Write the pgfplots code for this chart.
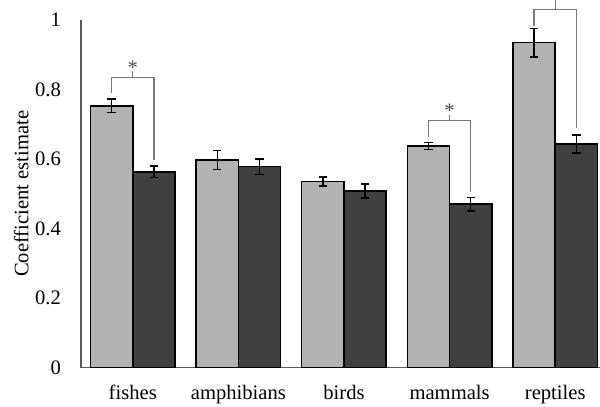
\documentclass[border=0pt]{standalone}
\usepackage{fontspec}
\setmainfont{Liberation Serif}
\usepackage{pgfplots}
\pgfplotsset{compat=1.18}
\definecolor{lightbar}{RGB}{178,178,178}
\definecolor{darkbar}{RGB}{64,64,64}
\definecolor{brk}{RGB}{120,120,120}
\begin{document}
\fontsize{10.3}{12}\selectfont
\begin{tikzpicture}
\begin{axis}[
  scale only axis, width=263pt, height=173.75pt,
  xmin=-0.49, xmax=4.49, ymin=0, ymax=1,
  clip=false,
  axis x line*=bottom, axis y line*=left,
  axis line style={draw=black!65, line width=0.75pt},
  xtick={0,1,2,3,4}, xticklabels={fishes,amphibians,birds,mammals,reptiles},
  ytick={0,0.2,0.4,0.6,0.8,1}, yticklabels={0,0.2,0.4,0.6,0.8,1},
  major tick length=0pt, tick style={draw=none},
  yticklabel style={anchor=east, xshift=-6.4pt},
  xticklabel style={anchor=base, yshift=-16.25pt},
  ylabel={Coefficient estimate},
  ylabel style={at={(axis description cs:-0.1002,0.5)}, anchor=base, rotate=0},
]
\addplot[ybar, bar width=0.4, bar shift=0pt, fill=lightbar, draw=black, line width=0.75pt,
  error bars/.cd, y dir=both, y explicit,
  error bar style={black, line width=0.7pt},
  error mark options={rotate=90, mark size=2.1pt, black, line width=0.7pt}]
  table[x=x, y=y, y error=e] {
x y e
-0.2 0.753 0.020
0.8 0.597 0.028
1.8 0.535 0.013
2.8 0.637 0.010
3.8 0.935 0.041
};
\addplot[ybar, bar width=0.4, bar shift=0pt, fill=darkbar, draw=black, line width=0.75pt,
  error bars/.cd, y dir=both, y explicit,
  error bar style={black, line width=0.7pt},
  error mark options={rotate=90, mark size=2.1pt, black, line width=0.7pt}]
  table[x=x, y=y, y error=e] {
x y e
0.2 0.563 0.017
1.2 0.578 0.022
2.2 0.508 0.020
3.2 0.470 0.020
4.2 0.643 0.026
};
% significance brackets
\draw[brk, line width=0.7pt] (axis cs:-0.2,0.789) -- (axis cs:-0.2,0.834) -- (axis cs:0.2,0.834) -- (axis cs:0.2,0.597);
\draw[brk, line width=0.7pt] (axis cs:0,0.834) -- (axis cs:0,0.854);
\node[anchor=base, text=black!70, inner sep=0pt] at (axis cs:0,0.843) {*};
\draw[brk, line width=0.7pt] (axis cs:2.8,0.664) -- (axis cs:2.8,0.710) -- (axis cs:3.2,0.710) -- (axis cs:3.2,0.506);
\draw[brk, line width=0.7pt] (axis cs:3,0.710) -- (axis cs:3,0.727);
\node[anchor=base, text=black!70, inner sep=0pt] at (axis cs:3,0.720) {*};
\draw[brk, line width=0.7pt] (axis cs:3.8,0.983) -- (axis cs:3.8,1.031) -- (axis cs:4.2,1.031) -- (axis cs:4.2,0.688);
\draw[brk, line width=0.7pt] (axis cs:4,1.031) -- (axis cs:4,1.065);
\end{axis}
\pgfresetboundingbox
\path[use as bounding box] (-40.5pt,-19.75pt) rectangle (259.5pt,183.75pt);
\end{tikzpicture}
\end{document}
